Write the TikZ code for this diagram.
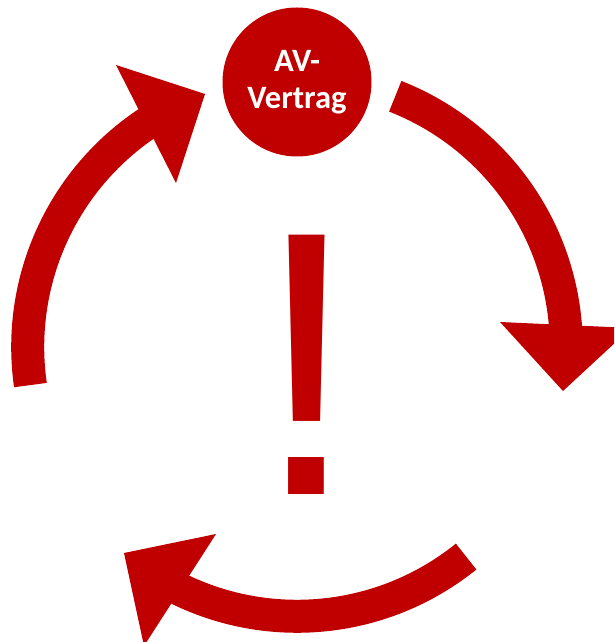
\documentclass[tikz,border=0pt]{standalone}
\usepackage{fontspec}
\setmainfont{Carlito}
\newfontfamily\bangfont{Liberation Sans}
\definecolor{avred}{HTML}{C00000}
\tikzset{
  shaft/.style={draw=avred, line width=33pt},
  head/.style={fill=avred, draw=none},
  hub/.style={circle, fill=avred, draw=none, minimum size=149pt, inner sep=0pt,
    text=white, font=\bfseries\fontsize{32.6pt}{37pt}\selectfont, align=center},
  bang/.style={inner sep=0pt, text=avred, font=\bangfont\fontsize{377pt}{377pt}\selectfont}
}
\begin{document}
\begin{tikzpicture}[x=1pt,y=1pt]
\useasboundingbox (0,0) rectangle (614,642);
\clip (0,0) rectangle (614,642);
\coordinate (O) at (297,295);
% left arrow
\coordinate (ls) at ([shift={(188.13:269.3)}]O);
\draw[shaft] (ls) arc[start angle=188.13, end angle=122.5, radius=269.3];
\coordinate (lt) at (205,548);
\coordinate (l1) at (116,577);
\coordinate (l2) at (176,459);
\fill[head] (lt) -- (l1) -- (l2) -- cycle;
% right arrow
\coordinate (rs) at ([shift={(68.6:269.3)}]O);
\draw[shaft] (rs) arc[start angle=68.6, end angle=3.0, radius=269.3];
\coordinate (rt) at (563,251);
\coordinate (r1) at (500,320);
\coordinate (r2) at (631,314);
\fill[head] (rt) -- (r1) -- (r2) -- cycle;
% bottom arrow
\coordinate (bs) at ([shift={(-51.1:269.3)}]O);
\draw[shaft] (bs) arc[start angle=-51.1, end angle=-117.3, radius=269.3];
\coordinate (bt) at (124,89);
\coordinate (b1) at (216,108);
\coordinate (b2) at (144,-4);
\fill[head] (bt) -- (b1) -- (b2) -- cycle;
% hub
\node[hub] (av) at (297,560) {AV-\\Vertrag};
% exclamation mark
\node[bang, anchor=base] (ex) at (307,147) {!};
\end{tikzpicture}
\end{document}
